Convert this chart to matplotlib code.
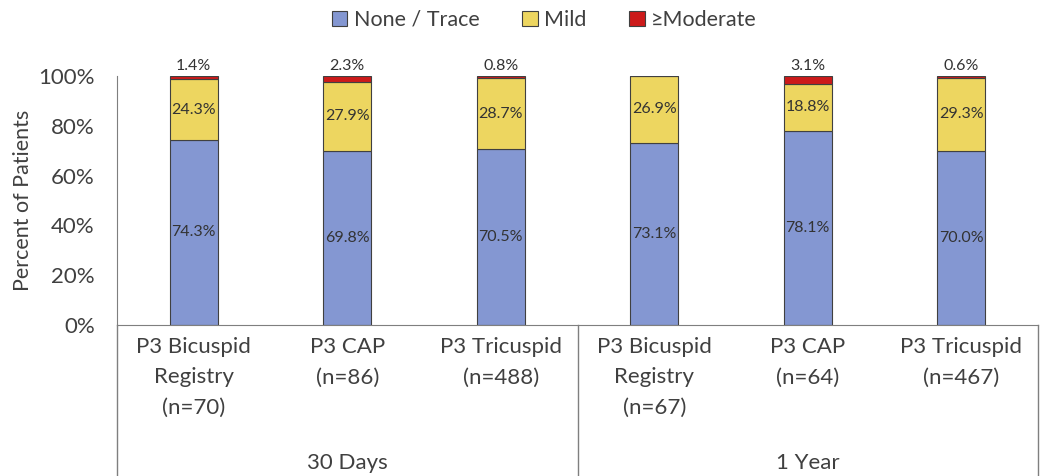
import matplotlib.pyplot as plt
import matplotlib.transforms as mtransforms
from matplotlib.patches import Patch
import numpy as np

# data (percent of patients)
categories = ["P3 Bicuspid\nRegistry\n(n=70)", "P3 CAP\n(n=86)", "P3 Tricuspid\n(n=488)",
              "P3 Bicuspid\nRegistry\n(n=67)", "P3 CAP\n(n=64)", "P3 Tricuspid\n(n=467)"]
groups = ["30 Days", "1 Year"]
none_trace = [74.3, 69.8, 70.5, 73.1, 78.1, 70.0]
mild = [24.3, 27.9, 28.7, 26.9, 18.8, 29.3]
moderate = [1.4, 2.3, 0.8, 0.0, 3.1, 0.6]
series_names = ["None / Trace", "Mild", "\u2265Moderate"]

colors = ["#8497D2", "#EDD660", "#CC1A1A"]
edge = "#404040"
text_col = "#404040"

plt.rcParams['font.family'] = ['Lato', 'DejaVu Sans']

fig = plt.figure(figsize=(10.41, 4.76), dpi=100)
ax = fig.add_axes([117 / 1041, 1 - 325 / 476, (1038 - 117) / 1041, (325 - 76) / 476])

x = np.arange(len(categories))
w = 0.31
none_v = np.array(none_trace) / 100
mild_v = np.array(mild) / 100
mod_v = np.array(moderate) / 100

ax.bar(x, none_v, w, color=colors[0], edgecolor=edge, linewidth=0.8)
ax.bar(x, mild_v, w, bottom=none_v, color=colors[1], edgecolor=edge, linewidth=0.8)
ax.bar(x, mod_v, w, bottom=none_v + mild_v, color=colors[2], edgecolor=edge, linewidth=0.8)

for i in range(len(x)):
    ax.text(x[i], none_v[i] / 2, f"{none_trace[i]:.1f}%", ha='center', va='center',
            fontsize=11.5, color='#333333')
    ax.text(x[i], none_v[i] + mild_v[i] / 2, f"{mild[i]:.1f}%", ha='center', va='center',
            fontsize=11.5, color='#333333')
    if moderate[i] > 0:
        ax.text(x[i], none_v[i] + mild_v[i] + mod_v[i] + 0.012, f"{moderate[i]:.1f}%",
                ha='center', va='bottom', fontsize=11.5, color='#333333')

ax.set_xlim(-0.5, len(x) - 0.5)
ax.set_ylim(0, 1)
ax.set_yticks(np.arange(0, 1.01, 0.2))
ax.set_yticklabels([f"{int(v * 100)}%" for v in np.arange(0, 1.01, 0.2)])
ax.tick_params(axis='y', length=0, pad=16, labelsize=16, labelcolor=text_col)
ax.set_xticks(x)
ax.set_xticklabels(categories, linespacing=1.66)
ax.tick_params(axis='x', length=0, pad=8.5, labelsize=16, labelcolor=text_col)
ax.set_ylabel("Percent of Patients", fontsize=15.5, color=text_col)
ax.yaxis.set_label_coords(-(117 - 33) / 921, 0.5)

for s in ['top', 'right']:
    ax.spines[s].set_visible(False)
ax.spines['bottom'].set_color('#7f7f7f')
ax.spines['left'].set_color('#7f7f7f')
ax.spines['left'].set_bounds(0, 1)

# group separators below the axis
trans = mtransforms.blended_transform_factory(ax.transData, ax.transAxes)
ybot = -151 / 249
for xv in [-0.5, 2.5, 5.5]:
    ax.plot([xv, xv], [0, ybot], transform=trans, color='#7f7f7f', lw=1.0, clip_on=False)
for gi, g in enumerate(groups):
    ax.text(gi * 3 + 1, -0.555, g, transform=trans, ha='center', va='center',
            fontsize=16, color=text_col)

handles = [Patch(facecolor=c, edgecolor=edge, linewidth=0.8) for c in colors]
fig.legend(handles, series_names, loc='center', bbox_to_anchor=(0.523, 1 - 20 / 476), ncol=3,
           frameon=False, fontsize=15.5, handlelength=0.7, handleheight=0.7,
           columnspacing=2.0, handletextpad=0.3, labelcolor=text_col)

fig.savefig("out.png", dpi=100)
